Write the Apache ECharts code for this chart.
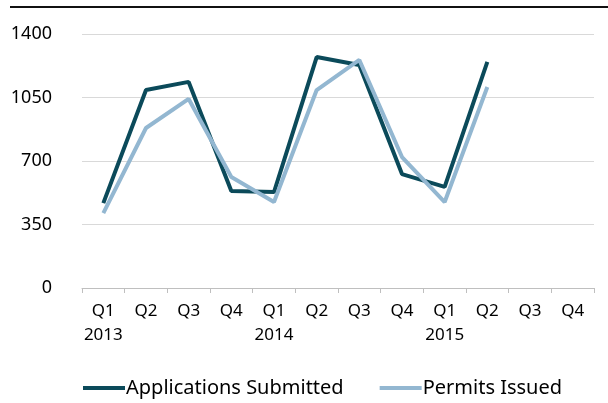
<!DOCTYPE html>
<html>
<head>
<meta charset="utf-8">
<script src="https://cdn.jsdelivr.net/npm/echarts@6/dist/echarts.min.js"></script>
<style>
  html, body { margin: 0; padding: 0; background: #fff; }
  #chart { width: 608px; height: 403px; }
</style>
</head>
<body>
<div id="chart"></div>
<script>
const quarters = ['Q1', 'Q2', 'Q3', 'Q4', 'Q1', 'Q2', 'Q3', 'Q4', 'Q1', 'Q2', 'Q3', 'Q4'];
const years = ['2013', '', '', '', '2014', '', '', '', '2015', '', '', ''];
const applications = [468, 1091, 1136, 535, 529, 1273, 1229, 628, 557, 1246, null, null];
const permits = [413, 882, 1042, 612, 474, 1091, 1257, 722, 474, 1108, null, null];
const yTicks = [0, 350, 700, 1050, 1400];

const chart = echarts.init(document.getElementById('chart'));
const fontFamily = '"Noto Sans", "Liberation Sans", sans-serif';

const option = {
  backgroundColor: '#fff',
  animation: false,
  color: ['#0b4a5a', '#93b7d1'],
  grid: { left: 82, right: 14, top: 34, bottom: 115 },
  // thin rule across the top of the picture
  graphic: [{
    type: 'line',
    shape: { x1: 10, y1: 7, x2: 608, y2: 7 },
    style: { stroke: '#111', lineWidth: 2 }
  }],
  legend: {
    bottom: 0,
    left: 78,
    itemWidth: 42,
    itemHeight: 4,
    itemGap: 36,
    icon: 'rect',
    textStyle: { fontFamily: fontFamily, fontSize: 20, color: '#000', padding: [0, 0, 0, -4] },
    data: ['Applications Submitted', 'Permits Issued']
  },
  xAxis: {
    type: 'category',
    boundaryGap: true,
    data: quarters.map((q, i) => years[i] ? q + '\n' + years[i] : q),
    axisLine: { lineStyle: { color: '#bfbfbf', width: 1 } },
    axisTick: { show: true, length: 5, lineStyle: { color: '#bfbfbf' } },
    axisLabel: {
      interval: 0,
      margin: 11,
      color: '#000',
      fontFamily: fontFamily,
      fontSize: 17,
      lineHeight: 24,
      align: 'center',
      verticalAlign: 'top'
    }
  },
  yAxis: {
    type: 'value',
    min: yTicks[0],
    max: yTicks[yTicks.length - 1],
    interval: 350,
    axisLine: { show: false },
    axisTick: { show: false },
    axisLabel: {
      color: '#000', fontFamily: fontFamily, fontSize: 18, margin: 30,
      formatter: v => String(v)
    },
    splitLine: { lineStyle: { color: '#d9d9d9', width: 1 } }
  },
  series: [
    {
      name: 'Applications Submitted',
      type: 'line',
      data: applications,
      symbol: 'none',
      lineStyle: { width: 4, color: '#0b4a5a' }
    },
    {
      name: 'Permits Issued',
      type: 'line',
      data: permits,
      symbol: 'none',
      lineStyle: { width: 4, color: '#93b7d1' }
    }
  ]
};

option && chart.setOption(option);
</script>
</body>
</html>
